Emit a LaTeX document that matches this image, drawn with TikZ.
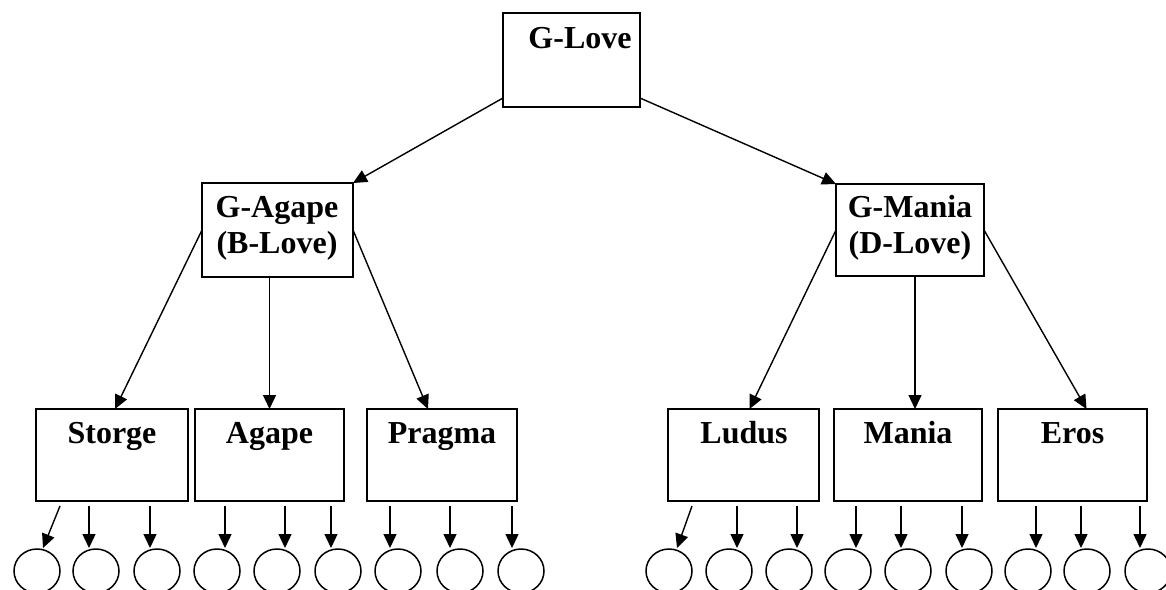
\documentclass[tikz,border=0pt]{standalone}
\usepackage{fontspec}
\setmainfont{Liberation Serif}
\usetikzlibrary{arrows.meta,shapes.geometric,calc}
\begin{document}
\begin{tikzpicture}[x=1pt,y=-1pt,
  every node/.style={inner sep=0pt,outer sep=0pt},
  box/.style={draw=black,line width=1.5pt,rectangle,minimum height=92pt},
  lbl/.style={anchor=base,font=\fontsize{32}{36}\selectfont\bfseries},
  arr/.style={draw=black,line width=1.4pt,-{Triangle[length=14pt,width=13pt]}},
  leaf/.style={draw=black,line width=1.5pt,ellipse,minimum width=46pt,minimum height=44pt}]
\useasboundingbox (0,0) rectangle (1166,589);
\clip (0,0) rectangle (1166,589);
% boxes
\node[box,minimum width=137pt,minimum height=94pt] (glove) at (571.5,60) {};
\node[box,minimum width=151pt,minimum height=94pt] (gagape) at (277.5,230) {};
\node[box,minimum width=148pt] (gmania) at (910,230) {};
\node[box,minimum width=152pt] (storge) at (112,455) {};
\node[box,minimum width=149pt] (agape) at (269.5,455) {};
\node[box,minimum width=150pt] (pragma) at (442,455) {};
\node[box,minimum width=151pt] (ludus) at (743.5,455) {};
\node[box,minimum width=148pt] (mania) at (908,455) {};
\node[box,minimum width=149pt] (eros) at (1072.5,455) {};
% labels
\node[lbl] (tglove) at (580,48) {G-Love};
\node[lbl] (tgagape1) at (277,217) {G-Agape};
\node[lbl] (tgagape2) at (277,253) {(B-Love)};
\node[lbl] (tgmania1) at (910,217) {G-Mania};
\node[lbl] (tgmania2) at (910,253) {(D-Love)};
\node[lbl] (tstorge) at (112,443) {Storge};
\node[lbl] (tagape) at (269.5,443) {Agape};
\node[lbl] (tpragma) at (442,443) {Pragma};
\node[lbl] (tludus) at (744,443) {Ludus};
\node[lbl] (tmania) at (908,443) {Mania};
\node[lbl] (teros) at (1072.5,443) {Eros};
% connectors
\draw[arr] ([yshift=9pt]glove.south west) -- (gagape.north east);
\draw[arr] ([yshift=9pt]glove.south east) -- (gmania.north west);
\draw[arr] (gagape.west) -- ([xshift=3pt]storge.north);
\draw[arr] (agape.north |- gagape.south) -- (agape.north);
\draw[arr] (gagape.east) -- ([xshift=-14pt]pragma.north);
\draw[arr] (gmania.west) -- ([xshift=6pt]ludus.north);
\draw[arr] ([xshift=5pt]gmania.south) -- ([xshift=5pt]gmania.south |- mania.north);
\draw[arr] (gmania.east) -- ([xshift=14pt]eros.north);
% leaves
\foreach \n/\cx/\sx/\ex in {1/37/60/43, 2/96/89/89, 3/157/150/150, 4/217/225/225,
  5/277/285/285, 6/338/331/331, 7/398/390/390, 8/460/450/450, 9/521/512/512,
  10/669/692/677, 11/729/737/737, 12/789/797/797, 13/848/856/856, 14/908/901/901,
  15/969/962/962, 16/1028/1036/1036, 17/1087/1081/1081, 18/1148/1140/1140}{
  \node[leaf] (c\n) at (\cx,571) {};
  \coordinate (s\n) at (\sx,506);
  \coordinate (e\n) at (\ex,548);
  \draw[arr] (s\n) -- (e\n);
}
\end{tikzpicture}
\end{document}
